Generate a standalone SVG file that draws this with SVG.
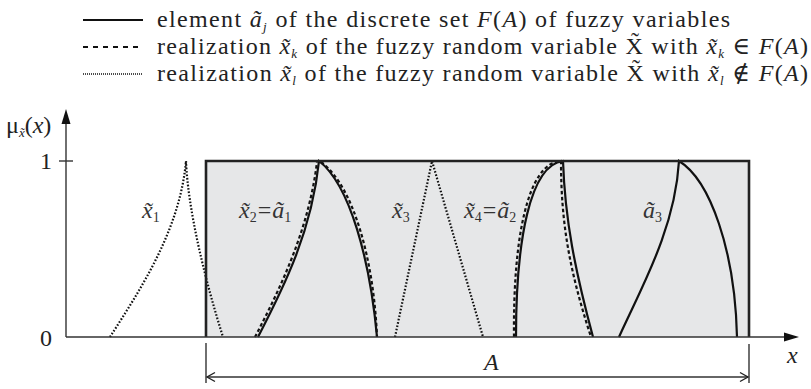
<svg xmlns="http://www.w3.org/2000/svg" width="811" height="389" viewBox="0 0 811 389">
<style>
text{font-family:"Liberation Serif","DejaVu Serif",serif;fill:#222;font-size:24px}
.it{font-style:italic}
.sub{font-size:13px;font-style:italic}
.subn{font-size:14px}
.axis{stroke:#333;stroke-width:1.4;fill:none}
.solid{stroke:#111;stroke-width:2.2;fill:none}
.dash{stroke:#111;stroke-width:2.2;fill:none;stroke-dasharray:3.5 2.5}
.dot{stroke:#111;stroke-width:2.2;fill:none;stroke-dasharray:1.6 1.8}
.lbl{fill:#333}
</style>
<g id="legend">
<line x1="83" y1="20" x2="143" y2="20" stroke="#111" stroke-width="2"/>
<line x1="83" y1="47" x2="143" y2="47" stroke="#111" stroke-width="2" stroke-dasharray="5 5"/>
<line x1="83" y1="74" x2="143" y2="74" stroke="#111" stroke-width="1.4" stroke-dasharray="1 1"/>
<text x="157" y="27" textLength="573">element <tspan class="it">ã</tspan><tspan class="sub" dy="4">j</tspan><tspan dy="-4"> of the discrete set </tspan><tspan class="it">F</tspan>(<tspan class="it">A</tspan>) of fuzzy variables</text>
<text x="157" y="54" textLength="651">realization <tspan class="it">x̃</tspan><tspan class="sub" dy="4">k</tspan><tspan dy="-4"> of the fuzzy random variable X̃ with </tspan><tspan class="it">x̃</tspan><tspan class="sub" dy="4">k</tspan><tspan dy="-4"> ∈ </tspan><tspan class="it">F</tspan>(<tspan class="it">A</tspan>)</text>
<text x="157" y="81" textLength="651">realization <tspan class="it">x̃</tspan><tspan class="sub" dy="4">l</tspan><tspan dy="-4"> of the fuzzy random variable X̃ with </tspan><tspan class="it">x̃</tspan><tspan class="sub" dy="4">l</tspan><tspan dy="-4"> ∉ </tspan><tspan class="it">F</tspan>(<tspan class="it">A</tspan>)</text>
</g>
<g id="setA">
<rect x="206" y="161" width="543" height="176" fill="#e6e7e8"/>
</g>
<g id="curves">
<path class="dot" d="M110,337 C140,290 180,230 186,161 C188,210 205,280 223,337"/>
<path class="dash" d="M255,337 C282,285 309,228 317,162"/>
<path class="dash" d="M321,162 C354,186 374,262 377,337"/>
<path class="solid" d="M258,337 C285,285 312,230 319,161 C350,185 370,260 377,337"/>
<path class="dot" d="M395,337 L432,161 L483,337"/>
<path class="dash" d="M514,337 C513,240 527,163 561,161 C561,225 570,272 591,337"/>
<path class="solid" d="M516,337 C516,240 530,165 563,161 C565,220 575,270 593,337"/>
<path class="solid" d="M619,337 C640,290 675,230 679,161 C710,180 735,250 737,337"/>
</g>
<g id="setA-border">
<path d="M206,337 V161 H749 V337" fill="none" stroke="#222" stroke-width="2.6"/>
</g>
<g id="axes">
<line class="axis" x1="66" y1="337" x2="66" y2="120"/>
<polygon points="66,109 61.5,124 70.5,124" fill="#111"/>
<line class="axis" x1="66" y1="337" x2="786" y2="337"/>
<polygon points="799,337 784,332.5 784,341.5" fill="#111"/>
<line class="axis" x1="59" y1="161" x2="73" y2="161"/>
<text x="6" y="133"><tspan>μ</tspan><tspan class="sub" font-size="11" dy="4">x̃</tspan><tspan dy="-4">(</tspan><tspan class="it">x</tspan>)</text>
<text x="40" y="169">1</text>
<text x="40" y="346">0</text>
<text class="it" x="787" y="363">x</text>
</g>
<g id="dimension">
<line class="axis" x1="206" y1="343" x2="206" y2="383"/>
<line class="axis" x1="749" y1="344" x2="749" y2="383"/>
<line class="axis" x1="207" y1="377" x2="748" y2="377"/>
<polyline points="215,372.5 207,377 215,381.5" fill="none" stroke="#222" stroke-width="1.4"/>
<polyline points="740,372.5 748,377 740,381.5" fill="none" stroke="#222" stroke-width="1.4"/>
<text class="it" x="484" y="370">A</text>
</g>
<g id="labels">
<text class="lbl" x="142" y="218"><tspan class="it">x̃</tspan><tspan class="subn" dy="4">1</tspan></text>
<text class="lbl" x="239" y="218"><tspan class="it">x̃</tspan><tspan class="subn" dy="4">2</tspan><tspan dy="-4" dx="1">=</tspan><tspan class="it" dx="1">ã</tspan><tspan class="subn" dy="4">1</tspan></text>
<text class="lbl" x="392" y="218"><tspan class="it">x̃</tspan><tspan class="subn" dy="4">3</tspan></text>
<text class="lbl" x="464" y="218"><tspan class="it">x̃</tspan><tspan class="subn" dy="4">4</tspan><tspan dy="-4" dx="1">=</tspan><tspan class="it" dx="1">ã</tspan><tspan class="subn" dy="4">2</tspan></text>
<text class="lbl" x="643" y="218"><tspan class="it">ã</tspan><tspan class="subn" dy="4">3</tspan></text>
</g>
</svg>
